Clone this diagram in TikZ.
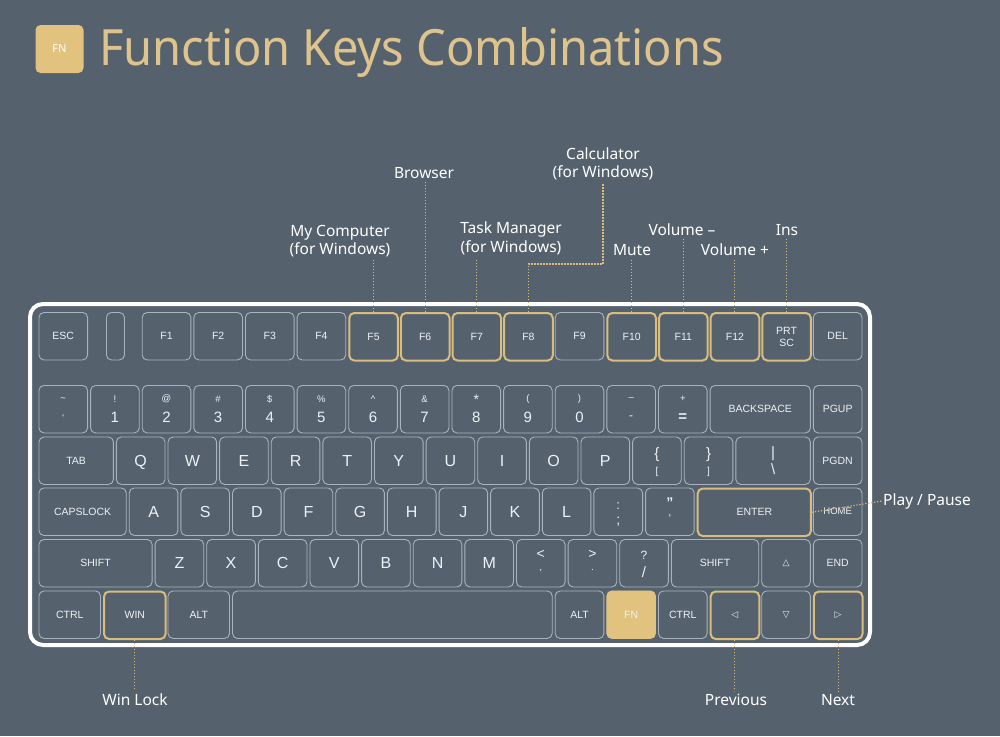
\documentclass[tikz,border=0pt]{standalone}
\usepackage{fontspec}
\setmainfont{Liberation Sans}
\newfontfamily\notofont{Noto Sans}
\newfontfamily\titlefont[FakeStretch=0.94]{Noto Sans}
\newfontfamily\symfont{DejaVu Sans}
\definecolor{bg}{HTML}{55626E}
\definecolor{keyline}{HTML}{A9B3BC}
\definecolor{gold}{HTML}{D9BD7E}
\definecolor{titlegold}{HTML}{DEC48C}
\definecolor{fnfill}{HTML}{E2C27F}
\definecolor{ktext}{HTML}{EEF1F3}
\tikzset{
  keybox/.style={draw=keyline, line width=0.9pt, rounded corners=5pt, inner sep=0pt,
     minimum height=47.5pt, text=ktext, font=\fontsize{10.5}{12}\selectfont, align=center},
  hl/.style={draw=gold, line width=2pt},
  fnkey/.style={fill=fnfill, draw=fnfill},
  letter/.style={font=\fontsize{16}{18}\selectfont, text height=11.5pt, text depth=0pt},
  upper/.style={text=ktext, inner sep=0pt, font=\fontsize{9.5}{10}\selectfont},
  lower/.style={text=ktext, inner sep=0pt, font=\fontsize{15}{16}\selectfont},
  ann/.style={text=white, font=\notofont\fontsize{15.5}{18.5}\selectfont, align=center, inner sep=3pt},
  dotline/.style={draw=gold, line width=1.1pt, dash pattern=on 1.3pt off 1.7pt},
}
% name, slot, width in units, top y, style, label
\newcommand\keyat[6]{%
  \node[keybox,#5,minimum width={(#3)*51.625-3}, anchor=north west] (#1) at ({37+(#2)*51.625+1.5},#4) {#6};}
% two-label key: name, upper, lower, upper shift, lower shift, upper style, lower style
\newcommand\twolab[7]{%
  \node[upper,#6] at ([yshift=#4]#1.center) {#2};
  \node[lower,#7] at ([yshift=#5]#1.center) {#3};}
\begin{document}
\begin{tikzpicture}[x=1pt,y=-1pt]
\useasboundingbox (0,0) rectangle (1000,736);
\fill[bg] (0,0) rectangle (1000,736);

% title
\node[fill=fnfill, rounded corners=5pt, minimum size=48pt, inner sep=0pt, text=white,
      font=\notofont\fontsize{11}{11}\selectfont] (badge) at (59.5,49) {FN};
\node[anchor=base west, inner sep=0pt, text=titlegold, font=\titlefont\fontsize{50}{50}\selectfont]
      (title) at (99,65.5) {Function Keys Combinations};

% keyboard frame
\draw[white, line width=4pt, rounded corners=13pt] (30,304) rectangle (870,645);

% row 1
\keyat{esc}{0}{1}{312}{}{ESC}
\node[keybox, minimum width=18pt, anchor=north west] (blank) at (106,312) {};
\foreach \n in {1,...,4} {\keyat{f\n}{1+\n}{1}{312}{}{F\n}}
\foreach \n in {5,...,8} {\keyat{f\n}{1+\n}{1}{312}{hl}{F\n}}
\keyat{f9}{10}{1}{312}{}{F9}
\foreach \n in {10,11,12} {\keyat{f\n}{1+\n}{1}{312}{hl}{F\n}}
\keyat{prtsc}{14}{1}{312}{hl}{PRT\\SC}
\keyat{del}{15}{1}{312}{}{DEL}

% row 2
\foreach \u/\d [count=\i from 0] in {{\char`\~}/{\fontsize{10}{10}\selectfont\char`\`},{!}/{1},{@}/{2},{\#}/{3},{\$}/{4},{\%}/{5},{\char`\^}/{6},{\&}/{7},{\fontsize{14}{14}\selectfont *}/{8},{(}/{9},{)}/{0},{--}/{\fontsize{12}{12}\selectfont -},{+}/{\textbf{=}}} {
  \keyat{n\i}{\i}{1}{385}{}{}
  \twolab{n\i}{\u}{\d}{10pt}{-8.5pt}{}{}
}
\keyat{bksp}{13}{2}{385}{}{BACKSPACE}
\keyat{pgup}{15}{1}{385}{}{PGUP}

% row 3
\keyat{tab}{0}{1.5}{436.5}{}{TAB}
\foreach \l [count=\i from 0] in {Q,W,E,R,T,Y,U,I,O,P} {\keyat{k\l}{1.5+\i}{1}{436.5}{letter}{\l}}
\keyat{lbr}{11.5}{1}{436.5}{}{}
\twolab{lbr}{\{}{[}{6pt}{-11pt}{font=\fontsize{15}{16}\selectfont}{font=\fontsize{10}{11}\selectfont}
\keyat{rbr}{12.5}{1}{436.5}{}{}
\twolab{rbr}{\}}{]}{6pt}{-11pt}{font=\fontsize{15}{16}\selectfont}{font=\fontsize{10}{11}\selectfont}
\keyat{bsl}{13.5}{1.5}{436.5}{}{}
\twolab{bsl}{|}{\textbackslash}{7pt}{-8pt}{font=\fontsize{15}{16}\selectfont}{font=\fontsize{15}{16}\selectfont}
\keyat{pgdn}{15}{1}{436.5}{}{PGDN}

% row 4
\keyat{caps}{0}{1.75}{487.5}{}{CAPSLOCK}
\foreach \l [count=\i from 0] in {A,S,D,F,G,H,J,K,L} {\keyat{k\l}{1.75+\i}{1}{487.5}{letter}{\l}}
\keyat{semi}{10.75}{1}{487.5}{}{}
\twolab{semi}{:}{;}{6pt}{-10pt}{font=\fontsize{13}{14}\selectfont}{font=\fontsize{14}{15}\selectfont}
\keyat{quot}{11.75}{1}{487.5}{}{}
\twolab{quot}{”}{‘}{9pt}{-7pt}{font=\fontsize{14}{15}\selectfont\bfseries}{font=\fontsize{12}{13}\selectfont}
\keyat{enter}{12.75}{2.25}{487.5}{hl}{ENTER}
\keyat{home}{15}{1}{487.5}{font=\fontsize{9.5}{11}\selectfont}{HOME}

% row 5
\keyat{lshift}{0}{2.25}{539}{}{SHIFT}
\foreach \l [count=\i from 0] in {Z,X,C,V,B,N,M} {\keyat{k\l}{2.25+\i}{1}{539}{letter}{\l}}
\keyat{comma}{9.25}{1}{539}{}{}
\twolab{comma}{<}{,}{9pt}{-7pt}{font=\fontsize{14}{15}\selectfont}{font=\fontsize{10}{11}\selectfont}
\keyat{period}{10.25}{1}{539}{}{}
\twolab{period}{>}{.}{9pt}{-7pt}{font=\fontsize{14}{15}\selectfont}{font=\fontsize{10}{11}\selectfont}
\keyat{slash}{11.25}{1}{539}{}{}
\twolab{slash}{?}{/}{8pt}{-9pt}{font=\fontsize{12}{13}\selectfont}{font=\fontsize{15}{16}\selectfont}
\keyat{rshift}{12.25}{1.75}{539}{}{SHIFT}
\keyat{up}{14}{1}{539}{font=\symfont\fontsize{9}{10}\selectfont}{△}
\keyat{end}{15}{1}{539}{}{END}

% row 6
\keyat{lctrl}{0}{1.25}{590.5}{}{CTRL}
\keyat{win}{1.25}{1.25}{590.5}{hl}{WIN}
\keyat{lalt}{2.5}{1.25}{590.5}{}{ALT}
\keyat{space}{3.75}{6.25}{590.5}{}{}
\keyat{ralt}{10}{1}{590.5}{}{ALT}
\keyat{fn}{11}{1}{590.5}{fnkey}{FN}
\keyat{rctrl}{12}{1}{590.5}{}{CTRL}
\keyat{left}{13}{1}{590.5}{hl,font=\symfont\fontsize{9}{10}\selectfont}{◁}
\keyat{down}{14}{1}{590.5}{font=\symfont\fontsize{9}{10}\selectfont}{▽}
\keyat{right}{15}{1}{590.5}{hl,font=\symfont\fontsize{9}{10}\selectfont}{▷}

% annotations
\node[ann] (mycomp) at (340,241) {My Computer\\(for Windows)};
\node[ann] (browser) at (424,173) {Browser};
\node[ann] (taskm) at (511,238.5) {Task Manager\\(for Windows)};
\node[ann] (calc) at (603,164) {Calculator\\(for Windows)};
\node[ann] (mute) at (632,250) {Mute};
\node[ann] (volm) at (682,230) {Volume –};
\node[ann] (volp) at (735,250) {Volume +};
\node[ann] (ins) at (787,230) {Ins};
\node[ann, anchor=west, inner sep=1pt] (play) at (882,501) {Play / Pause};
\node[ann] (winlock) at (135,700) {Win Lock};
\node[ann] (prev) at (736,700) {Previous};
\node[ann] (next) at (838,700) {Next};

\draw[dotline] (f5.north) -- (f5.north |- mycomp.south);
\draw[dotline] (f6.north) -- (f6.north |- browser.south);
\draw[dotline] (f7.north) -- (f7.north |- taskm.south);
\draw[dotline] (f8.north) -- ++(0,-48) -| (calc.south);
\draw[dotline] (f10.north) -- (f10.north |- mute.south);
\draw[dotline] (f11.north) -- (f11.north |- volm.south);
\draw[dotline] (f12.north) -- (f12.north |- volp.south);
\draw[dotline] (prtsc.north) -- (prtsc.north |- ins.south);
\draw[dotline] (enter.east) -- (play.west);
\draw[dotline] (win.south) -- (win.south |- winlock.north);
\draw[dotline] (left.south) -- (left.south |- prev.north);
\draw[dotline] (right.south) -- (right.south |- next.north);
\end{tikzpicture}
\end{document}
